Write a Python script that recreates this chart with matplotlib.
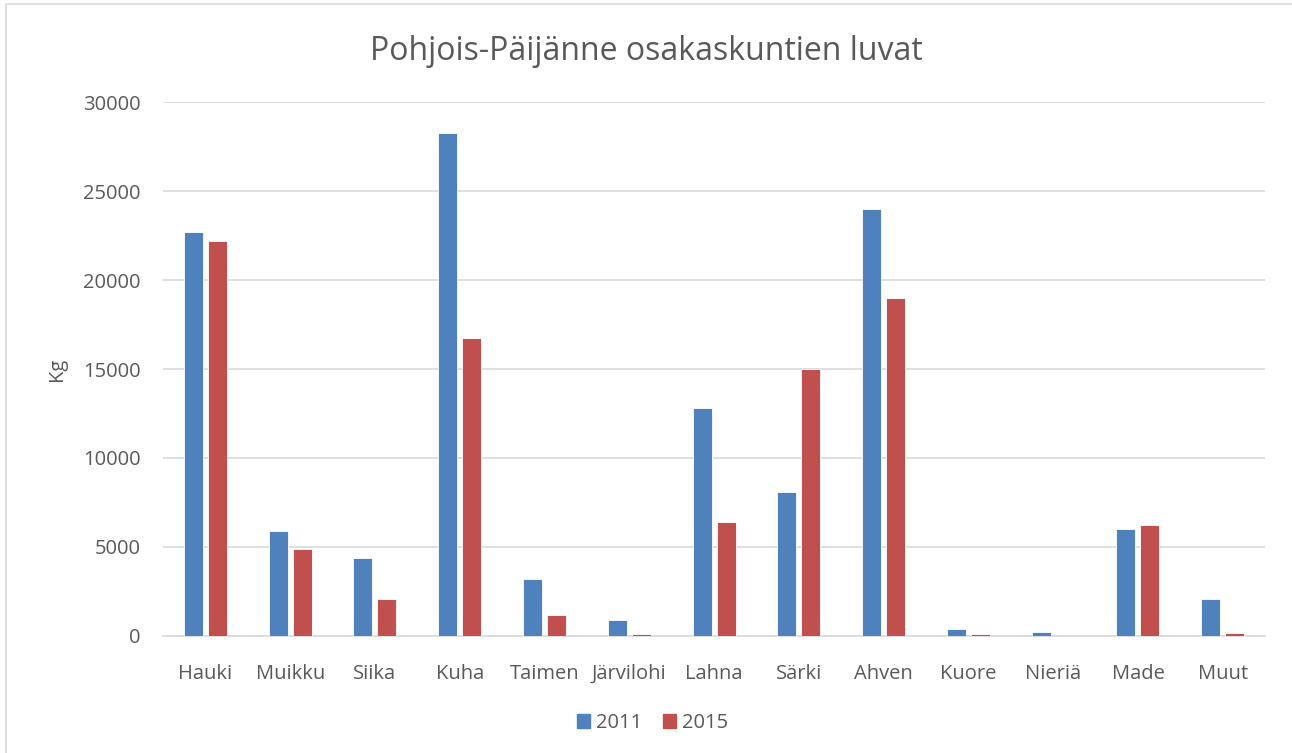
import matplotlib.pyplot as plt
import numpy as np
from matplotlib.patches import Rectangle, Patch

plt.rcParams['font.family'] = ['Open Sans', 'DejaVu Sans']

# Saaliit lajeittain (kg)
lajit = ['Hauki', 'Muikku', 'Siika', 'Kuha', 'Taimen', 'Järvilohi', 'Lahna',
         'Särki', 'Ahven', 'Kuore', 'Nieriä', 'Made', 'Muut']
v2011 = [22700, 5900, 4400, 28250, 3200, 900, 12800, 8100, 24000, 400, 200, 6000, 2100]
v2015 = [22200, 4900, 2100, 16750, 1200, 100, 6400, 15000, 19000, 100, 0, 6250, 150]
vuodet = ['2011', '2015']

sininen = '#4f81bd'
punainen = '#c0504d'
harmaa = '#595959'

fig = plt.figure(figsize=(12.92, 7.53), dpi=100)
ax = fig.add_axes([0.1262, 0.1554, 0.853, 0.7091])

x = np.arange(len(lajit))
w = 0.224
ax.bar(x - 0.1415, v2011, w, color=sininen, edgecolor='white', linewidth=0.6, zorder=3)
ax.bar(x + 0.1415, v2015, w, color=punainen, edgecolor='white', linewidth=0.6, zorder=3)

ax.set_xlim(-0.5, len(lajit) - 0.5)
ax.set_ylim(0, 30000)
ax.set_yticks(range(0, 30001, 5000))
ax.set_xticks(x)
ax.set_xticklabels(lajit)
ax.grid(axis='y', color='#d9d9d9', linewidth=1.2, zorder=0)
for s in ['top', 'right', 'left']:
    ax.spines[s].set_visible(False)
ax.spines['bottom'].set_color('#d9d9d9')
ax.spines['bottom'].set_linewidth(1.2)
ax.tick_params(axis='both', length=0, colors=harmaa, labelsize=14.5)
ax.tick_params(axis='y', pad=16)
ax.tick_params(axis='x', pad=20)

ax.set_ylabel('Kg', color=harmaa, fontsize=14.5, labelpad=12)
fig.text(0.5, 0.932, 'Pohjois-Päijänne osakaskuntien luvat', ha='center', va='center',
         color=harmaa, fontsize=23)

handles = [Patch(color=sininen), Patch(color=punainen)]
fig.legend(handles, vuodet, loc='center', bbox_to_anchor=(0.505, 0.04), ncol=2,
           frameon=False, fontsize=14.5, labelcolor=harmaa, handlelength=0.65,
           handleheight=0.65, handletextpad=0.3, columnspacing=1.0)

# kehys kuvan ympärillä
fig.patches.append(Rectangle((6 / 1292, -0.1), 1.2, 1.1 - 4 / 753, transform=fig.transFigure,
                             fill=False, edgecolor='#d9d9d9', linewidth=1.2))

fig.savefig('out.png', dpi=100)
